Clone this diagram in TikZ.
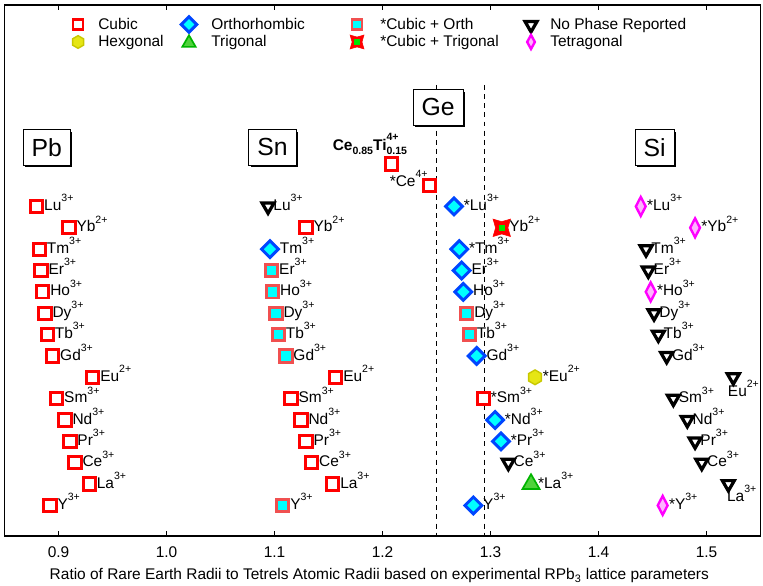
\documentclass[tikz,border=0pt]{standalone}
\usepackage{fontspec}
\setmainfont{Liberation Sans}
\usepackage{xcolor}
\usepackage{tikz}
\usetikzlibrary{positioning}
\usetikzlibrary{shapes.geometric}
\usetikzlibrary{shadows}

\definecolor{cubred}{RGB}{255,0,0}
\definecolor{orthoblue}{RGB}{0,70,255}
\definecolor{orthcyan}{RGB}{0,255,255}
\definecolor{corthred}{RGB}{240,80,80}
\definecolor{hexfill}{RGB}{230,230,20}
\definecolor{hexedge}{RGB}{200,200,0}
\definecolor{trifill}{RGB}{80,210,60}
\definecolor{triedge}{RGB}{0,180,0}
\definecolor{tetraedge}{RGB}{255,0,255}
\definecolor{tetrafill}{RGB}{255,180,255}
\definecolor{stargreen}{RGB}{0,230,0}

\newcommand{\lblfont}{\fontsize{11pt}{13pt}\selectfont}
\newcommand{\ionsup}[1]{\raisebox{6.2pt}{\fontsize{7.5pt}{8pt}\selectfont #1}}

\begin{document}
\begin{tikzpicture}[x=27cm, y=-0.025cm,
		cubic/.style={rectangle, draw=cubred, fill=white, line width=2.1pt, minimum size=8.7pt, inner sep=0pt, outer sep=0pt},
		cubicorth/.style={rectangle, draw=corthred, fill=orthcyan, line width=2.1pt, minimum size=8.7pt, inner sep=0pt, outer sep=0pt},
		ortho/.style={diamond, draw=orthoblue, fill=orthcyan, line width=2.1pt, minimum size=12pt, inner sep=0pt, outer sep=0pt},
		nophase/.style={regular polygon, regular polygon sides=3, shape border rotate=180, draw=black, fill=white, line width=2.3pt, minimum size=9.8pt, inner sep=0pt, outer sep=0pt},
		hexa/.style={regular polygon, regular polygon sides=6, shape border rotate=30, draw=hexedge, fill=hexfill, line width=1pt, minimum size=10.5pt, inner sep=0pt, outer sep=0pt},
		trig/.style={regular polygon, regular polygon sides=3, draw=triedge, fill=trifill, line width=1.2pt, minimum size=14pt, inner sep=0pt, outer sep=0pt},
		tetra/.style={diamond, draw=tetraedge, fill=tetrafill, line width=1.7pt, minimum width=7pt, minimum height=13.5pt, inner sep=0pt, outer sep=0pt},
		cubictrig/.style={star, star points=4, star point ratio=2, shape border rotate=45, draw=cubred, fill=cubred, line width=0.4pt, minimum size=17.5pt, inner sep=0pt, outer sep=0pt,
			path picture={\fill[stargreen] ([shift={(-2.2pt,-2.2pt)}]path picture bounding box.center) rectangle ([shift={(2.2pt,2.2pt)}]path picture bounding box.center);}},
		ionlbl/.style={anchor=base west, inner sep=0.8pt, yshift=-2.9pt, font=\lblfont},
		legtext/.style={anchor=base west, inner sep=0pt, font=\lblfont},
		ticklbl/.style={anchor=base, inner sep=0pt, font=\lblfont},
		tetrelbox/.style={rectangle, draw=black, fill=white, line width=0.6pt, inner xsep=6pt, inner ysep=0pt, minimum height=25pt,
			font=\fontsize{17.6pt}{20pt}\selectfont, drop shadow={shadow xshift=1.2pt, shadow yshift=-1.2pt, opacity=1, fill=black}},
		gebound/.style={dash pattern=on 3.5pt off 3pt, line width=0.9pt}
	]
	\useasboundingbox (0.84583,0) rectangle (1.55231,586);
	% Axes
	\draw[line width=1.1pt] (0.85,5) rectangle (1.55,536);
	\foreach \t [count=\k] in {0.9,1.0,1.1,1.2,1.3,1.4,1.5}{
		\draw[line width=1.1pt] (\t,536) -- (\t,531);
		\draw[line width=1.1pt] (\t,5) -- (\t,10);
		\node[ticklbl] (tick\k) at (\t,558) {\t};
	}
	\node[ticklbl] (xtitle) at (1.197,580) {Ratio of Rare Earth Radii to Tetrels Atomic Radii based on experimental RPb\textsubscript{3} lattice parameters};
	% Ge window
	\draw[gebound] (1.25,85) -- (1.25,536);
	\draw[gebound] (1.2945,85) -- (1.2945,536);
	% Tetrel boxes
	\node[tetrelbox] (pb) at (0.889,147.5) {Pb};
	\node[tetrelbox] (sn) at (1.0981,147.5) {Sn};
	\node[tetrelbox] (ge) at (1.2514,107.5) {Ge};
	\node[tetrelbox] (si) at (1.452,147.5) {Si};
	% Legend
	\node[cubic, minimum size=7pt, line width=1.9pt] (lgcub) at (0.9181,24.5) {};
	\node[legtext] (lgcubt) at (0.9366,29.5) {Cubic};
	\node[hexa, minimum size=9pt] (lghex) at (0.9181,42) {};
	\node[legtext] (lghext) at (0.9366,47) {Hexgonal};
	\node[ortho, minimum size=11pt] (lgort) at (1.0208,24.5) {};
	\node[legtext] (lgortt) at (1.0412,29.5) {Orthorhombic};
	\node[trig, minimum size=11pt] (lgtri) at (1.0208,43) {};
	\node[legtext] (lgtrit) at (1.0412,47) {Trigonal};
	\node[cubicorth, minimum size=7pt, line width=1.9pt] (lgco) at (1.1764,24.5) {};
	\node[legtext] (lgcot) at (1.1977,29.5) {*Cubic + Orth};
	\node[cubictrig, minimum size=14pt] (lgct) at (1.1764,42) {};
	\node[legtext] (lgctt) at (1.1977,47) {*Cubic + Trigonal};
	\node[nophase] (lgnp) at (1.3375,25) {};
	\node[legtext] (lgnpt) at (1.3551,29.5) {No Phase Reported};
	\node[tetra, minimum width=5.5pt, minimum height=10pt] (lgtet) at (1.3375,42) {};
	\node[legtext] (lgtett) at (1.3551,47) {Tetragonal};
	% Pb column
	\foreach \v/\i/\t/\q in {0.8798/0/Lu/3+, 0.9097/1/Yb/2+, 0.8822/2/Tm/3+, 0.8838/3/Er/3+, 0.8854/4/Ho/3+,
		0.8875/5/Dy/3+, 0.8896/6/Tb/3+, 0.8946/7/Gd/3+, 0.9317/8/Eu/2+, 0.8983/9/Sm/3+,
		0.9060/10/Nd/3+, 0.9106/11/Pr/3+, 0.9153/12/Ce/3+, 0.9285/13/La/3+, 0.8921/14/Y/3+}{
		\node[cubic] (pb\i) at (\v,{206.5+21.36*\i}) {};
		\node[ionlbl] (pbl\i) at (pb\i.east) {\t\ionsup{\q}};
	}
	% Sn column
	\foreach \v/\i/\t/\q/\s in {1.0940/0/Lu/3+/nophase, 1.1292/1/Yb/2+/cubic, 1.0958/2/Tm/3+/ortho, 1.0974/3/Er/3+/cubicorth,
		1.0983/4/Ho/3+/cubicorth, 1.1014/5/Dy/3+/cubicorth, 1.1035/6/Tb/3+/cubicorth, 1.1106/7/Gd/3+/cubicorth,
		1.1567/8/Eu/2+/cubic, 1.1153/9/Sm/3+/cubic, 1.1245/10/Nd/3+/cubic, 1.1292/11/Pr/3+/cubic,
		1.1344/12/Ce/3+/cubic, 1.1539/13/La/3+/cubic, 1.1076/14/Y/3+/cubicorth}{
		\node[\s] (sn\i) at (\v,{206.5+21.36*\i}) {};
		\node[ionlbl] (snl\i) at (sn\i.east) {\t\ionsup{\q}};
	}
	\node[cubic] (ceti) at (1.2085,164) {};
	\node[anchor=base east, inner sep=0pt, xshift=6.8pt, yshift=5.5pt, font=\lblfont\bfseries] (cetil) at (ceti.north east)
		{Ce\raisebox{-3pt}{\fontsize{7.5pt}{8pt}\selectfont 0.85}Ti\rlap{\raisebox{7pt}{\fontsize{7.5pt}{8pt}\selectfont 4+}}\raisebox{-3pt}{\fontsize{7.5pt}{8pt}\selectfont 0.15}};
	\node[cubic] (cefour) at (1.2433,185.5) {};
	\node[anchor=base east, inner sep=0pt, xshift=-1pt, yshift=-0.7pt, font=\lblfont] (cefourl) at (cefour.center) {*Ce\ionsup{4+}};
	% Ge column
	\foreach \v/\i/\t/\q/\s in {1.2662/0/*Lu/3+/ortho, 1.3104/1/Yb/2+/cubictrig, 1.2711/2/*Tm/3+/ortho, 1.2733/3/Er/3+/ortho,
		1.2748/4/Ho/3+/ortho, 1.2780/5/Dy/3+/cubicorth, 1.2804/6/Tb/3+/cubicorth, 1.2872/7/Gd/3+/ortho,
		1.3412/8/*Eu/2+/hexa, 1.2933/9/*Sm/3+/cubic, 1.3042/10/*Nd/3+/ortho, 1.3097/11/*Pr/3+/ortho,
		1.3165/12/Ce/3+/nophase, 1.3375/13/*La/3+/trig, 1.2841/14/Y/3+/ortho}{
		\node[\s] (ge\i) at (\v,{206.5+21.36*\i}) {};
		\node[ionlbl] (gel\i) at (ge\i.east) {\t\ionsup{\q}};
	}
	% Si column
	\foreach \v/\i/\t/\q/\s in {1.4391/0/*Lu/3+/tetra, 1.4894/1/*Yb/2+/tetra, 1.4440/2/Tm/3+/nophase, 1.4461/3/Er/3+/nophase,
		1.4483/4/*Ho/3+/tetra, 1.4514/5/Dy/3+/nophase, 1.4554/6/Tb/3+/nophase, 1.4631/7/Gd/3+/nophase,
		1.4693/9/Sm/3+/nophase, 1.4822/10/Nd/3+/nophase, 1.4894/11/Pr/3+/nophase,
		1.4956/12/Ce/3+/nophase, 1.4594/14/*Y/3+/tetra}{
		\node[\s] (si\i) at (\v,{206.5+21.36*\i}) {};
		\node[ionlbl] (sil\i) at (si\i.east) {\t\ionsup{\q}};
	}
	\node[nophase] (si8) at (1.5248,{206.5+21.36*8}) {};
	\node[legtext] (sil8) at ([shift={(-4pt,-13.7pt)}]si8.center) {Eu\ionsup{2+}};
	\node[nophase] (si13) at (1.5202,{206.5+21.36*13}) {};
	\node[legtext] (sil13) at ([shift={(-1.1pt,-12.4pt)}]si13.center) {La\ionsup{3+}};
\end{tikzpicture}
\end{document}
